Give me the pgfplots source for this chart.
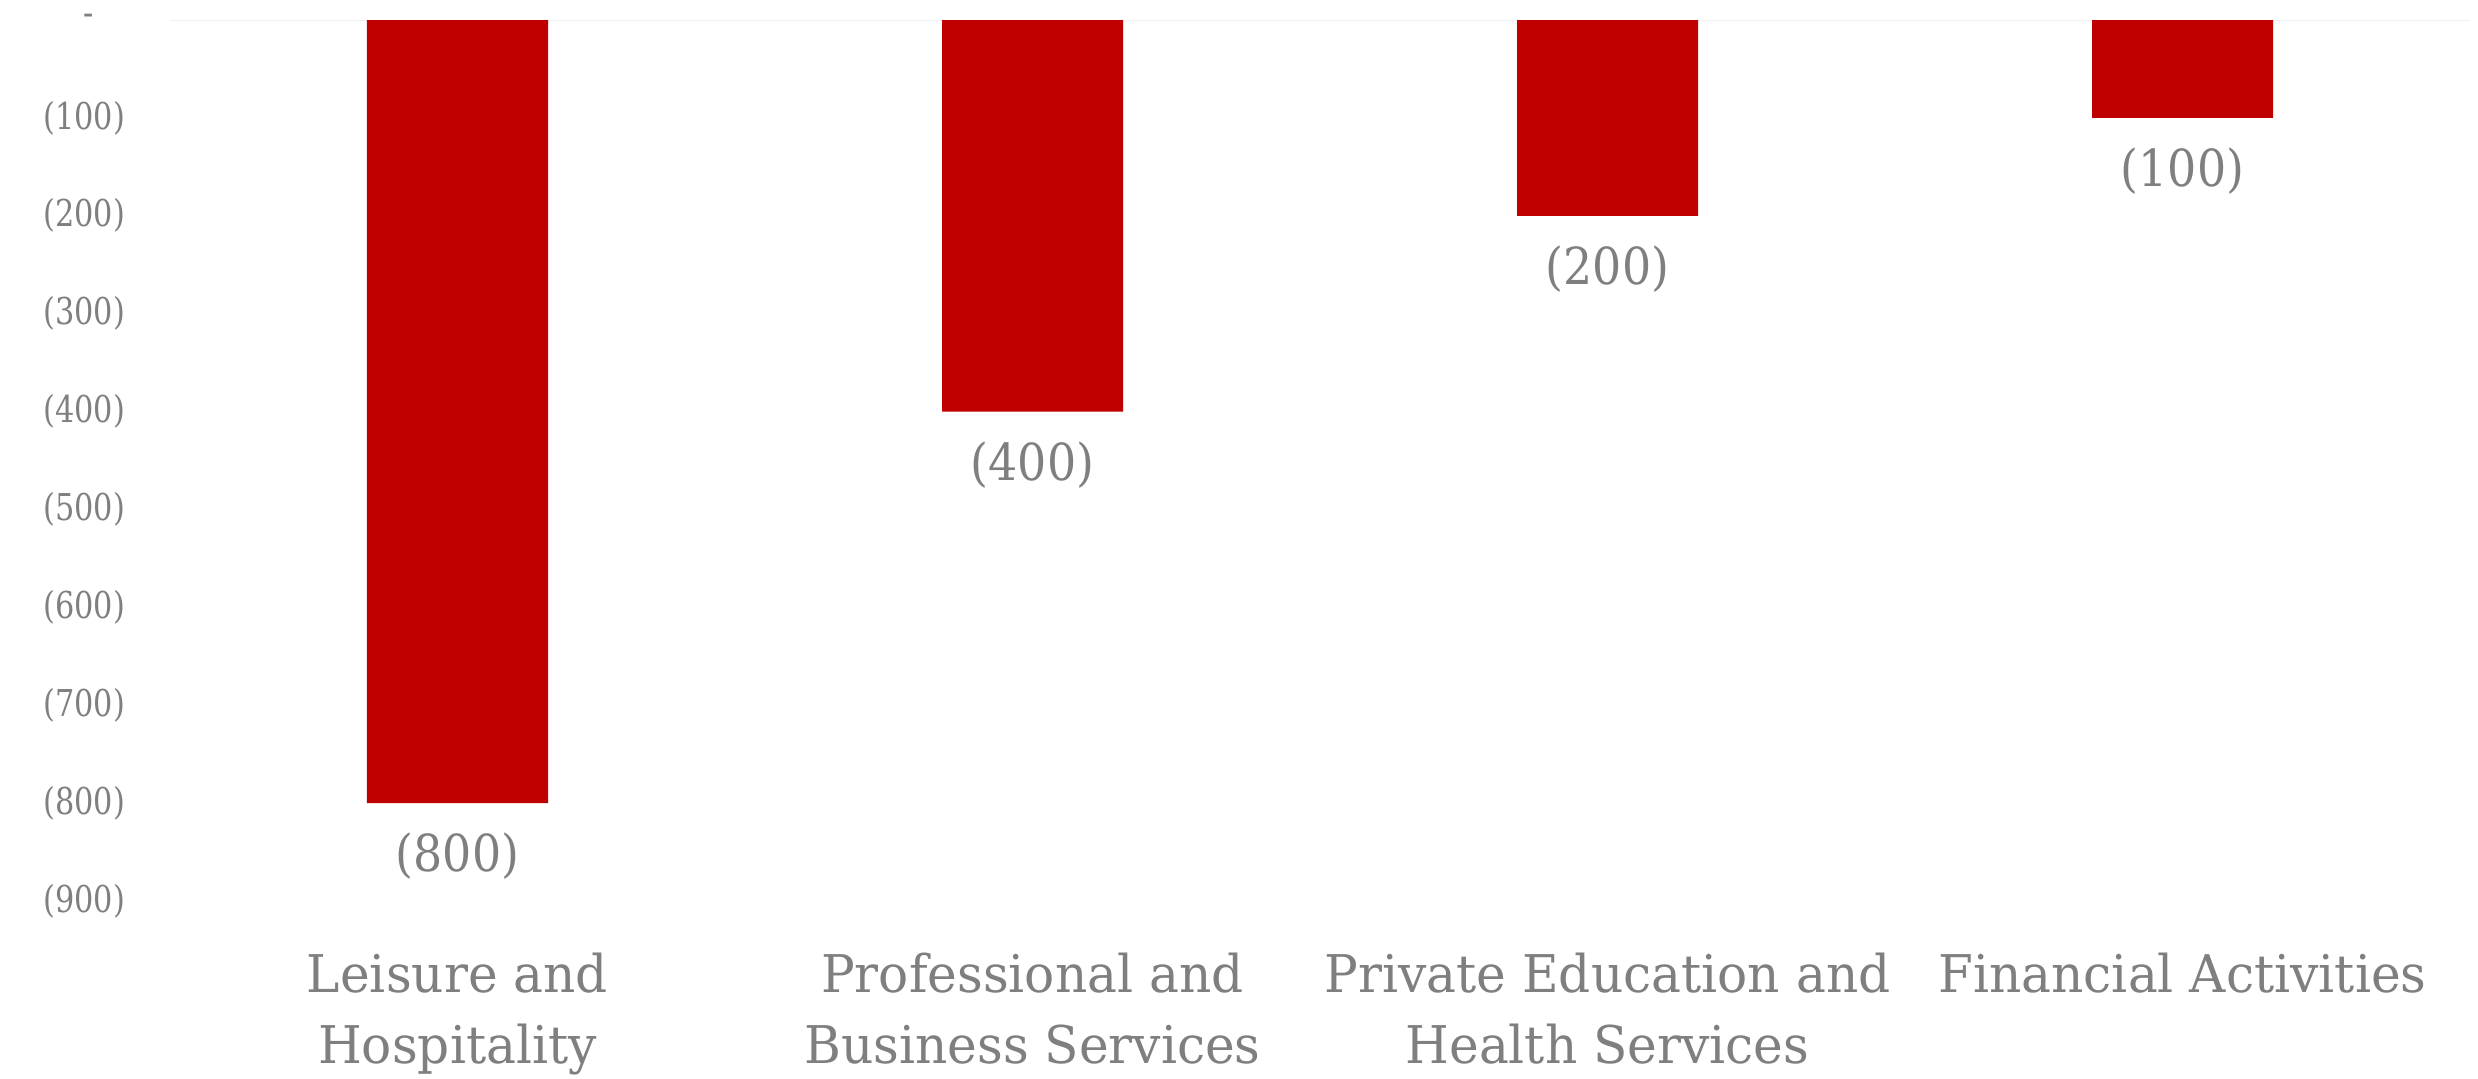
\documentclass[border=0pt]{standalone}
\usepackage{pgfplots}
\pgfplotsset{compat=1.18}
\usepackage{fontspec}
\setmainfont{DejaVu Serif}[FakeStretch=0.965]
\newfontfamily\tickfont{DejaVu Serif}[FakeStretch=0.82]
\newfontfamily\labfont{DejaVu Serif}[FakeStretch=0.9]
\definecolor{barred}{HTML}{C00000}
\definecolor{txtgray}{HTML}{7F7F7F}
\definecolor{gridgray}{HTML}{F0F0F0}
\begin{document}
\begin{tikzpicture}
\path[use as bounding box] (-34pt,-35.6pt) rectangle (461.6pt,180.2pt);
\begin{axis}[
  at={(0,0)}, anchor=south west,
  scale only axis, width=460pt, height=176.2pt,
  ybar, bar width=36.2pt,
  xmin=-0.5, xmax=3.5, ymin=-900, ymax=0,
  axis line style={draw=none}, tick style={draw=none},
  xtick={0,1,2,3},
  xticklabels={Leisure and\\Hospitality, Professional and\\Business Services, Private Education and\\Health Services, Financial Activities},
  xticklabel style={align=center, anchor=north, inner sep=0pt, yshift=-5.9pt,
    font=\fontsize{10.4}{14.2}\selectfont, text=txtgray},
  ytick={-900,-800,-700,-600,-500,-400,-300,-200,-100,0},
  yticklabels={(900),(800),(700),(600),(500),(400),(300),(200),(100),-\hphantom{0)}},
  yticklabel style={anchor=east, inner sep=0pt, xshift=-8.8pt,
    font=\tickfont\fontsize{7.4}{9}\selectfont, text=txtgray},
  nodes near coords, point meta=explicit symbolic,
  every node near coord/.append style={anchor=north, inner sep=0pt, yshift=-5.8pt,
    font=\labfont\fontsize{10.2}{12}\selectfont, text=txtgray},
]
\draw[gridgray, line width=0.4pt] (axis cs:-0.5,0) -- (axis cs:3.5,0);
\addplot[fill=barred, draw=none] coordinates {
  (0,-800) [(800)]
  (1,-400) [(400)]
  (2,-200) [(200)]
  (3,-100) [(100)]
};
\end{axis}
\end{tikzpicture}
\end{document}
